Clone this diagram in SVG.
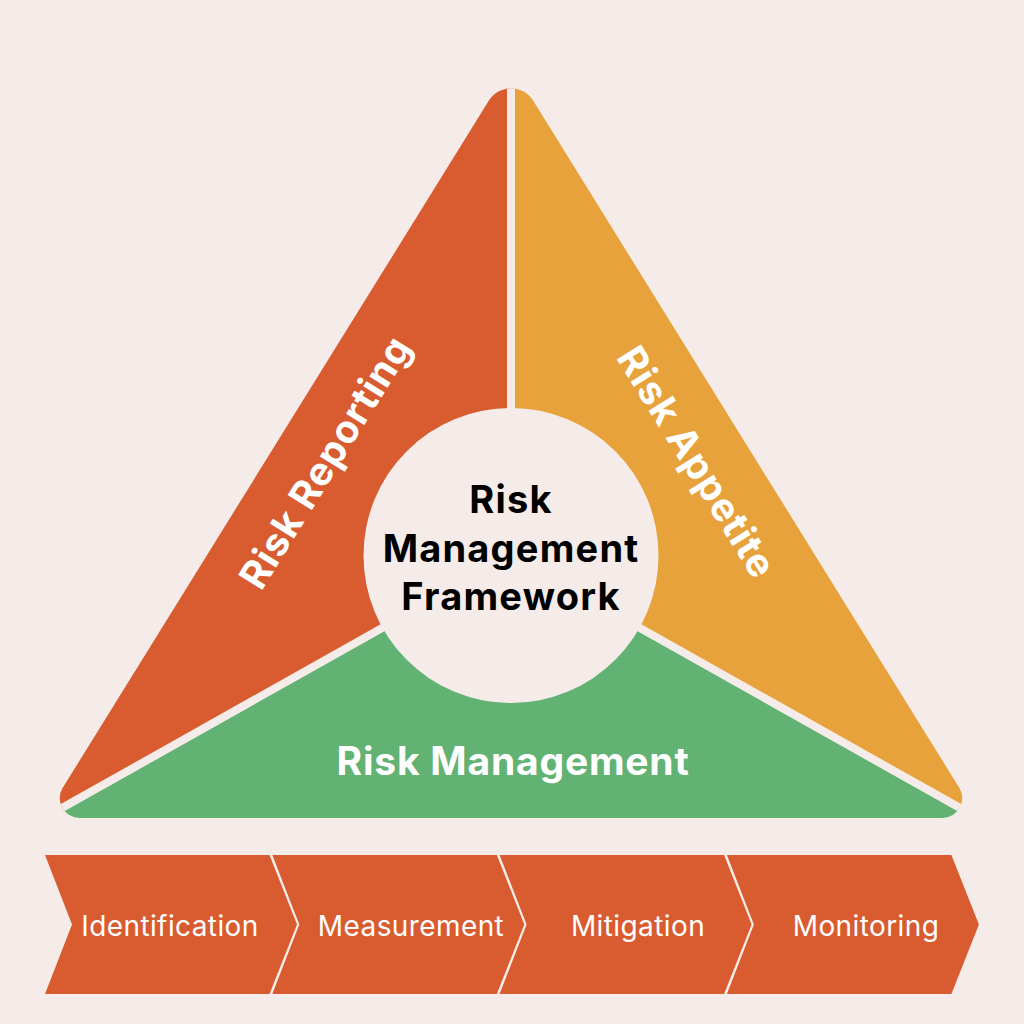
<svg xmlns="http://www.w3.org/2000/svg" width="1024" height="1024" viewBox="0 0 1024 1024">
  <defs>
    <clipPath id="tri">
      <path d="M488.9,100.6 A26,26 0 0 1 533.1,100.6 L959.1,787.5 A20,20 0 0 1 942.1,818 L79.9,818 A20,20 0 0 1 62.9,787.5 Z"/>
    </clipPath>
    <style>
      .bg{fill:#F5ECE9}
      .gap{stroke:#F5ECE9;stroke-width:8;fill:none}
      .chev{fill:#D95B30}
      .lbl{font-family:Inter,"Noto Sans","Liberation Sans",sans-serif;font-weight:700;fill:#FFFFFF;text-anchor:middle}
      .core{font-family:Inter,"Noto Sans","Liberation Sans",sans-serif;font-weight:700;fill:#000000;text-anchor:middle;font-size:38px;letter-spacing:1.2px}
      .step{font-family:Inter,"Noto Sans","Liberation Sans",sans-serif;font-weight:400;fill:#FFFFFF;text-anchor:middle;font-size:28px;letter-spacing:0.4px}
    </style>
  </defs>
  <rect class="bg" x="0" y="0" width="1024" height="1024"/>

  <g id="triangle" clip-path="url(#tri)">
    <g id="risk-reporting">
      <polygon points="511,40 511,555.5 20,832 20,40" fill="#D95B30"/>
    </g>
    <g id="risk-appetite">
      <polygon points="511,40 511,555.5 1002,832 1002,40" fill="#E8A23B"/>
    </g>
    <g id="risk-management">
      <polygon points="511,555.5 20,832 1002,832" fill="#62B274"/>
    </g>
    <g id="gaps">
      <line class="gap" x1="511" y1="40" x2="511" y2="555.5"/>
      <line class="gap" x1="511" y1="555.5" x2="30" y2="826"/>
      <line class="gap" x1="511" y1="555.5" x2="992" y2="826"/>
    </g>
  </g>

  <g id="framework">
    <circle class="bg" cx="511" cy="555.5" r="147.5"/>
    <text class="core" x="511" y="513">Risk</text>
    <text class="core" x="511" y="562">Management</text>
    <text class="core" x="511" y="610">Framework</text>
  </g>

  <text class="lbl" font-size="39" letter-spacing="0.8" transform="translate(325,462) rotate(-58.2)" x="0" y="14">Risk Reporting</text>
  <text class="lbl" font-size="39" letter-spacing="0.8" transform="translate(697,462) rotate(58.2)" x="0" y="14">Risk Appetite</text>
  <text class="lbl" font-size="39" letter-spacing="0.8" x="513" y="775">Risk Management</text>

  <g id="step-identification">
    <polygon class="chev" points="45,855 269.5,855 297,924.5 269.5,994 45,994 72,924.5"/>
    <text class="step" x="170" y="936">Identification</text>
  </g>
  <g id="step-measurement">
    <polygon class="chev" points="272.3,855 496.8,855 524.3,924.5 496.8,994 272.3,994 299.3,924.5"/>
    <text class="step" x="411" y="936">Measurement</text>
  </g>
  <g id="step-mitigation">
    <polygon class="chev" points="499.6,855 724.1,855 751.6,924.5 724.1,994 499.6,994 526.6,924.5"/>
    <text class="step" x="638" y="936">Mitigation</text>
  </g>
  <g id="step-monitoring">
    <polygon class="chev" points="726.9,855 951.4,855 978.9,924.5 951.4,994 726.9,994 753.9,924.5"/>
    <text class="step" x="866" y="936">Monitoring</text>
  </g>
  <g id="connectors"/>
</svg>
